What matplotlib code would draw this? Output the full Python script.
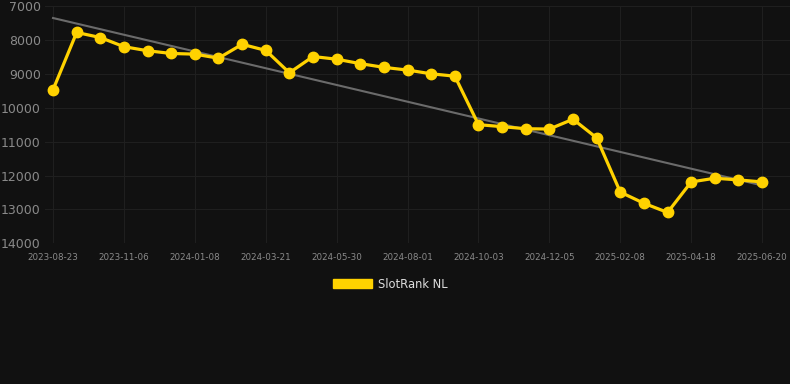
import matplotlib.pyplot as plt
import numpy as np

# data (rank, lower is better -> axis inverted)
tick_labels = ["2023-08-23", "2023-11-06", "2024-01-08", "2024-03-21", "2024-05-30",
               "2024-08-01", "2024-10-03", "2024-12-05", "2025-02-08", "2025-04-18",
               "2025-06-20"]
rank = [9470, 7780, 7930, 8200, 8320, 8400, 8420, 8540, 8130, 8310,
        8970, 8490, 8570, 8700, 8810, 8890, 9000, 9070, 10500, 10560,
        10620, 10630, 10340, 10890, 12490, 12820, 13090, 12190, 12080, 12130,
        12190]
series_name = "SlotRank NL"

bg = "#111111"
gold = "#FFD200"

fig = plt.figure(figsize=(7.9, 3.84), dpi=100, facecolor=bg)
ax = fig.add_axes([45 / 790, 1 - 243.3 / 384, 745 / 790, (243.3 - 6) / 384])
ax.set_facecolor(bg)

idx = np.arange(len(rank))

# trend line (least squares)
k, b = np.polyfit(idx, rank, 1)
ax.plot(idx, k * idx + b, color="#6b6b6b", lw=1.5, zorder=2)

ax.plot(idx, rank, color=gold, lw=2.3, marker="o", ms=7.5, zorder=3, label=series_name)

ax.set_ylim(14000, 7000)
ax.set_xlim(-0.34, 31.18)
ax.set_yticks(np.arange(7000, 14001, 1000))
ax.set_xticks(idx[::3])
ax.set_xticklabels(tick_labels)

ax.grid(True, color="#1f1f1f", lw=0.8)
for s in ax.spines.values():
    s.set_visible(False)
ax.tick_params(axis="y", colors="#8a8a8a", labelsize=9, length=0, pad=3)
ax.tick_params(axis="x", colors="#8a8a8a", labelsize=6.3, length=0, pad=7)

leg = fig.legend(loc="center", bbox_to_anchor=(390 / 790, 1 - 284 / 384), frameon=False,
                 handlelength=3.4, handleheight=0.9, handletextpad=0.5, fontsize=8.3,
                 labelcolor="#dddddd",
                 handles=[plt.Rectangle((0, 0), 1, 1, color=gold)], labels=[series_name])

fig.savefig("out.png", dpi=100, facecolor=bg)
